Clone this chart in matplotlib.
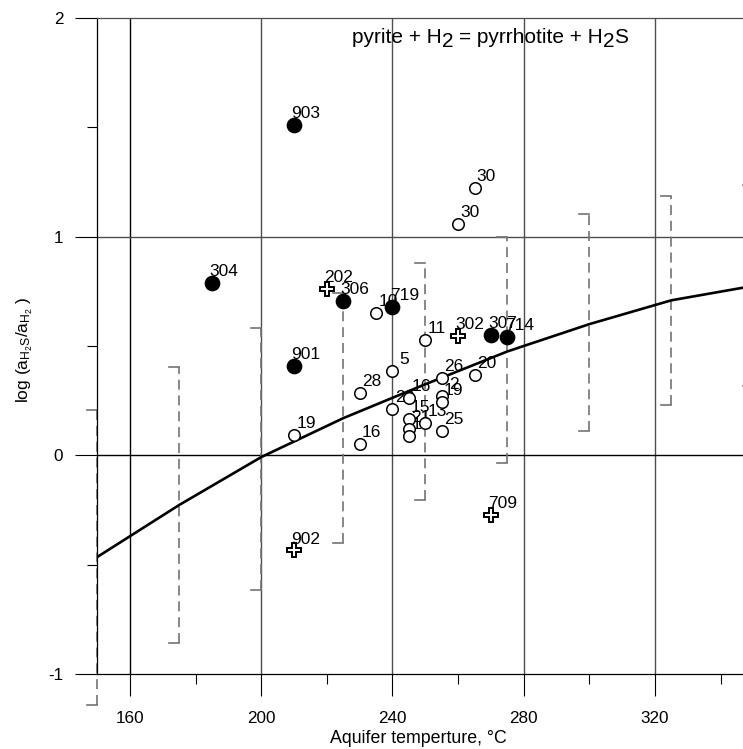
import numpy as np
import matplotlib
matplotlib.use("Agg")
import matplotlib.pyplot as plt
from matplotlib.ticker import MultipleLocator

plt.rcParams['font.family'] = ['Liberation Sans', 'DejaVu Sans']
plt.rcParams['mathtext.fontset'] = 'custom'
plt.rcParams['mathtext.rm'] = 'Liberation Sans'
plt.rcParams['mathtext.it'] = 'Liberation Sans:italic'
plt.rcParams['axes.unicode_minus'] = False

#%% Data
# filled circles
filled_T = [210, 185, 225, 210, 240, 270, 275]
filled_v = [1.512, 0.79, 0.708, 0.41, 0.677, 0.55, 0.54]
filled_lab = ['903', '304', '306', '901', '719', '307', '714']

# open crosses
cross_T = [220, 260, 210, 270]
cross_v = [0.762, 0.545, -0.435, -0.273]
cross_lab = ['202', '302', '902', '709']

# open circles
open_T = [265, 260, 235, 250, 240, 255, 265, 230, 255, 255, 240, 245, 245, 245, 245, 250, 255, 210, 230]
open_v = [1.223, 1.06, 0.649, 0.529, 0.386, 0.353, 0.368, 0.285, 0.273, 0.242, 0.212, 0.262,
          0.167, 0.12, 0.09, 0.147, 0.11, 0.091, 0.051]
open_lab = ['30', '30', '10', '11', '5', '26', '20', '28', '2', '19', '29', '16',
            '15', '21', '10', '13', '25', '19', '16']

# pyrite/pyrrhotite equilibrium curve
curve_T = [150, 175, 200, 225, 250, 275, 300, 325, 350]
curve_v = [-0.465, -0.227, -0.008, 0.17, 0.325, 0.475, 0.60, 0.709, 0.775]

# dashed range brackets
br_T = [150, 175, 200, 225, 250, 275, 300, 325, 350]
br_lo = [-1.14, -0.86, -0.617, -0.40, -0.205, -0.035, 0.11, 0.232, 0.317]
br_hi = [0.208, 0.406, 0.583, 0.742, 0.879, 1.0, 1.103, 1.185, 1.235]

#%% Figure
W, H = 743, 749
fig = plt.figure(figsize=(W / 100, H / 100), dpi=100)
ax = fig.add_axes([97.2 / W, 75 / H, 656.2 / W, 656 / H])
ax.set_xlim(150, 350)
ax.set_ylim(-1, 2)

# grid lines
for t in [160, 200, 240, 280, 320]:
    ax.axvline(t, color='black' if t == 160 else '0.3', lw=1.0, zorder=1)
ax.axhline(0, color='black', lw=1.0, zorder=1)
ax.axhline(1, color='0.3', lw=1.0, zorder=1)

# brackets
cap = 10.7 / 3.281
for t, lo, hi in zip(br_T, br_lo, br_hi):
    ax.plot([t, t], [lo, hi], color='0.45', lw=1.2, ls=(0, (6, 3.5)), zorder=2, clip_on=False)
    ax.plot([t - cap, t], [hi, hi], color='0.45', lw=1.2, zorder=2, clip_on=False)
    ax.plot([t - cap, t], [lo, lo], color='0.45', lw=1.2, zorder=2, clip_on=False)

# curve
ax.plot(curve_T, curve_v, color='black', lw=1.9, zorder=3)

# markers
ax.plot(open_T, open_v, 'o', ms=8.3, mfc='white', mec='black', mew=1.1, zorder=5, ls='none')
ax.plot(filled_T, filled_v, 'o', ms=10.3, mfc='black', mec='black', zorder=5, ls='none')
ax.plot(cross_T, cross_v, 'P', ms=9.5, mfc='white', mec='black', mew=1.4, zorder=5, ls='none')

# point labels
for T, v, labs in [(open_T, open_v, open_lab), (filled_T, filled_v, filled_lab), (cross_T, cross_v, cross_lab)]:
    for t, y, s in zip(T, v, labs):
        ax.annotate(s, (t, y), xytext=(8.6, 5.0), textcoords='offset points',
                    ha='center', va='baseline', fontsize=12.5, zorder=4)

# ticks and spines
ax.xaxis.set_major_locator(MultipleLocator(40))
ax.xaxis.set_major_locator(plt.FixedLocator([160, 200, 240, 280, 320]))
ax.xaxis.set_minor_locator(plt.FixedLocator([180, 220, 260, 300, 340]))
ax.yaxis.set_major_locator(plt.FixedLocator([-1, 0, 1, 2]))
ax.yaxis.set_minor_locator(plt.FixedLocator([-0.5, 0.5, 1.5]))
ax.tick_params(which='major', direction='out', length=15.8, width=0.8, labelsize=12.3)
ax.tick_params(which='minor', direction='out', length=7.2, width=0.8)
ax.tick_params(axis='x', which='major', pad=11)
ax.tick_params(axis='y', which='major', pad=8.6)
ax.spines['right'].set_visible(False)
ax.spines['top'].set_color('0.3')
for s in ['left', 'bottom', 'top']:
    ax.spines[s].set_linewidth(0.9)

# axis labels
fig.text(418 / W, 6.3 / H, 'Aquifer temperture, °C', ha='center', va='baseline', fontsize=12.8)
fig.text(25 / W, 1 - 350 / H, r'log (a$_{\mathrm{H}_{2}\mathrm{S}}$/a$_{\mathrm{H}_{2}}$ )',
         rotation=90, ha='center', va='center', fontsize=12.5)

# reaction text, with lowered full-size 2
fs = 15
pieces = [('pyrite + H', 0, 0), ('2', -3.4, 0), ('= pyrrhotite + H', 0, 1), ('2', -3.4, 0), ('S', 0, 0)]
fig.canvas.draw()
renderer = fig.canvas.get_renderer()
x = 352.0
y0 = H - 43.3
space = 0.278 * fs * 100 / 72
for s, dy, gap in pieces:
    x += gap * space
    t = fig.text(x / W, (y0 + dy) / H, s, ha='left', va='baseline', fontsize=fs)
    bb = t.get_window_extent(renderer)
    x = bb.x1

fig.savefig('out.png', dpi=100)
